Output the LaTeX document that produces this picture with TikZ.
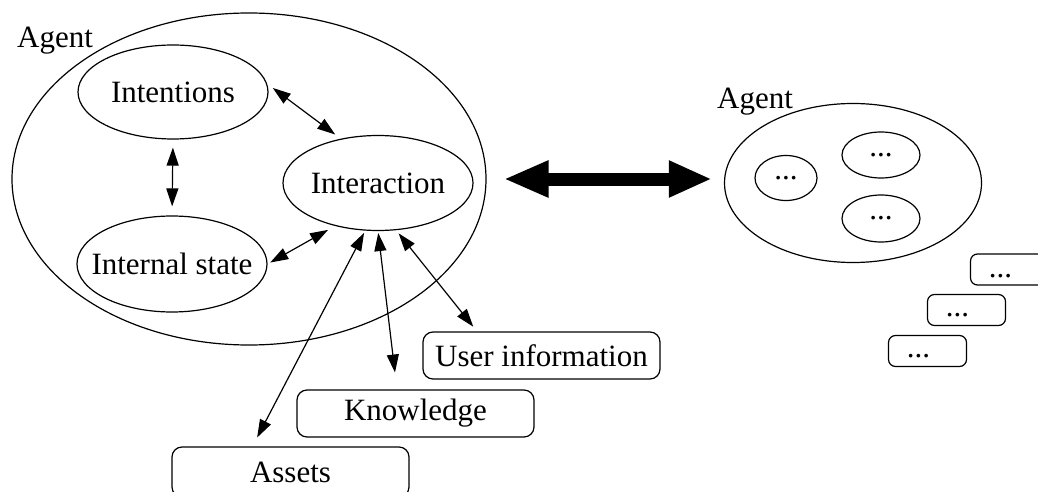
\documentclass[tikz,border=0pt]{standalone}
\usepackage{fontspec}
\setmainfont{Liberation Serif}
\usetikzlibrary{shapes.geometric,arrows.meta,calc}
\begin{document}
\begin{tikzpicture}[x=1pt,y=-1pt,
  font=\fontsize{31}{37}\selectfont,
  part/.style={ellipse,draw,line width=1.2pt,inner sep=0pt},
  store/.style={draw,rounded corners=10pt,line width=1.2pt,minimum width=237pt,minimum height=47pt,inner sep=0pt},
  slot/.style={draw,rounded corners=7pt,line width=1.2pt,minimum width=78pt,minimum height=31pt,inner sep=0pt},
  link/.style={line width=1.2pt,{Triangle[length=18pt,width=12pt]}-{Triangle[length=18pt,width=12pt]}},
  bigarrow/.style={line width=13pt,{Triangle[length=45pt,width=34pt]}-{Triangle[length=43pt,width=34pt]}}]
\useasboundingbox (0,0) rectangle (1038,492);
\clip (0,0) rectangle (1038,492);

% first agent and its parts
\node[part,minimum width=474pt,minimum height=332pt] (agentL) at (249,179) {};
\node[anchor=base west,inner sep=0pt] (agentLname) at (17,48) {Agent};
\node[part,minimum width=190pt,minimum height=94pt,label=center:Intentions] (intentions) at (173,92) {};
\node[part,minimum width=190pt,minimum height=96pt,label=center:Internal state] (internal) at (172,264) {};
\node[part,minimum width=190pt,minimum height=95pt,label=center:Interaction] (interaction) at (378,183) {};

% stores outside the agent
\node[store] (userinfo) at (541.5,355.5) {User information};
\node[store] (knowledge) at (415.5,413.5) {Knowledge};
\node[store,minimum height=50pt] (assets) at (290.5,472) {Assets};

% second agent
\node[part,minimum width=257pt,minimum height=159pt] (agentR) at (853,183) {};
\node[anchor=base west,inner sep=0pt] (agentRname) at (717,109) {Agent};
\node[part,minimum width=62pt,minimum height=45pt,label=center:...] (subA) at (786,178) {};
\node[part,minimum width=78pt,minimum height=46pt,label=center:...] (subB) at (881,155) {};
\node[part,minimum width=78pt,minimum height=47pt,label=center:...] (subC) at (881,218.5) {};

% its stores
\node[slot,label={[xshift=-9pt,yshift=-7pt]center:...}] (slotA) at (1009.5,269.5) {};
\node[slot,label={[xshift=-9pt,yshift=-5pt]center:...}] (slotB) at (966.5,310) {};
\node[slot,label={[xshift=-9pt,yshift=-5pt]center:...}] (slotC) at (927.5,351) {};

% links inside the first agent
\draw[link,shorten <=7pt,shorten >=7pt] (intentions.5) -- (interaction.130);
\draw[link,shorten <=8pt,shorten >=9pt] (intentions.south) -- (internal.north);
\draw[link,shorten <=3pt,shorten >=8pt] (internal.east) -- (interaction.225);

% links to the stores
\draw[link,shorten <=2.5pt,shorten >=10pt] (interaction.255) -- ([xshift=-38pt]assets.north);
\draw[link,shorten <=2pt,shorten >=17pt] (interaction.south) -- ([xshift=-18.5pt]knowledge.north);
\draw[link,shorten <=4pt,shorten >=6pt] (interaction.291) -- ([xshift=-64.5pt]userinfo.north);

% exchange between the agents
\draw[bigarrow,shorten <=17pt,shorten >=12pt] (agentL.east) -- (agentL.east -| agentR.west);
\end{tikzpicture}
\end{document}
